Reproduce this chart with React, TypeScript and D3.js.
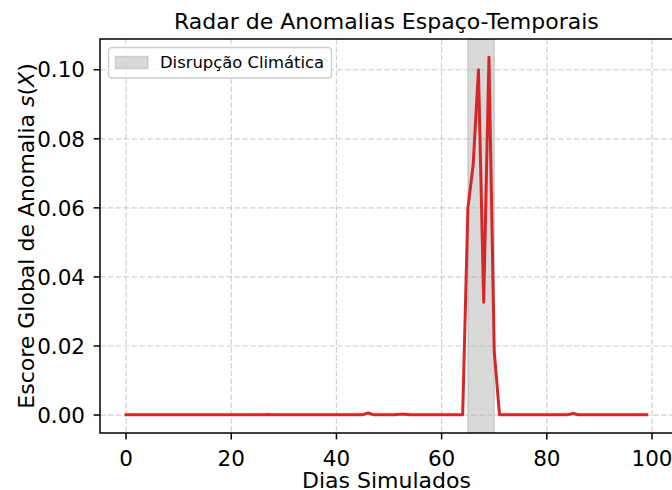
import React, { useEffect, useRef } from "react";
import * as d3 from "d3";

// dias simulados 0..99
const days: number[] = d3.range(0, 100);

// escore global de anomalia
const scores: number[] = [
  0.0001, 0.0001, 0.00012, 0.0001, 0.00011, 0.0001, 0.00009, 0.0001, 0.0001, 0.00008,
  0.0001, 0.00012, 0.0001, 0.0001, 0.00011, 0.00009, 0.0001, 0.0001, 0.00008, 0.0001,
  0.0001, 0.00011, 0.0001, 0.00012, 0.0001, 0.00009, 0.0001, 0.00013, 0.0001, 0.0001,
  0.00012, 0.0001, 0.0001, 0.00009, 0.0001, 0.00011, 0.0001, 0.0001, 0.00008, 0.0001,
  0.0001, 0.00011, 0.0001, 0.0001, 0.00012, 0.0001, 0.0006, 0.0001, 0.00011, 0.0001,
  0.0001, 0.00012, 0.0002, 0.00025, 0.0001, 0.0001, 0.00009, 0.0001, 0.0001, 0.00011,
  0.0001, 0.0001, 0.00009, 0.0001, 0.0001, 0.06, 0.0725, 0.1, 0.0327, 0.1036,
  0.0185, 0.0001, 0.0001, 0.00011, 0.0001, 0.0001, 0.00012, 0.0001, 0.00009, 0.0001,
  0.0001, 0.00011, 0.0001, 0.0001, 0.00012, 0.00045, 0.0001, 0.0001, 0.00009, 0.0001,
  0.0001, 0.00011, 0.0001, 0.0001, 0.00012, 0.0001, 0.0001, 0.00009, 0.0001, 0.0001,
];

const xTicks: number[] = [0, 20, 40, 60, 80, 100];
const yTicks: number[] = [0, 0.02, 0.04, 0.06, 0.08, 0.1];

// janela da disrupção climática (axvspan)
const disruption: [number, number] = [65, 70];

const FONT = "'DejaVu Sans', sans-serif";

function App() {
  const ref = useRef<SVGSVGElement | null>(null);

  useEffect(() => {
    const width = 672;
    const height = 490;
    const left = 100;
    const right = 672.8;
    const top = 39;
    const bottom = 433;

    const svg = d3.select(ref.current);
    svg.selectAll("*").remove();

    // matplotlib-like 5% margins
    const xScale = d3.scaleLinear().domain([-4.95, 103.95]).range([left, right]);
    const yScale = d3.scaleLinear().domain([-0.0052, 0.1089]).range([bottom, top]);

    svg.append("rect").attr("width", width).attr("height", height).attr("fill", "#ffffff");

    svg.append("defs")
      .append("clipPath")
      .attr("id", "plot-clip")
      .append("rect")
      .attr("x", left)
      .attr("y", top)
      .attr("width", right - left)
      .attr("height", bottom - top);

    const plot = svg.append("g").attr("clip-path", "url(#plot-clip)");

    // shaded disruption window
    plot.append("rect")
      .attr("x", xScale(disruption[0]))
      .attr("y", top)
      .attr("width", xScale(disruption[1]) - xScale(disruption[0]))
      .attr("height", bottom - top)
      .attr("fill", "#808080")
      .attr("fill-opacity", 0.3)
      .attr("stroke", "#808080")
      .attr("stroke-opacity", 0.3)
      .attr("stroke-width", 1.4);

    // dashed grid
    const grid = plot.append("g");
    xTicks.forEach((t) => {
      grid.append("line")
        .attr("x1", xScale(t)).attr("x2", xScale(t))
        .attr("y1", top).attr("y2", bottom)
        .attr("stroke", "#b0b0b0").attr("stroke-opacity", 0.6)
        .attr("stroke-width", 1.2).attr("stroke-dasharray", "5.5,2.4");
    });
    yTicks.forEach((t) => {
      grid.append("line")
        .attr("x1", left).attr("x2", right)
        .attr("y1", yScale(t)).attr("y2", yScale(t))
        .attr("stroke", "#b0b0b0").attr("stroke-opacity", 0.6)
        .attr("stroke-width", 1.2).attr("stroke-dasharray", "5.5,2.4");
    });

    // anomaly score line
    const line = d3.line<number>()
      .x((_, i) => xScale(days[i]))
      .y((d) => yScale(d));

    plot.append("path")
      .datum(scores)
      .attr("d", line)
      .attr("fill", "none")
      .attr("stroke", "#d62728")
      .attr("stroke-width", 3)
      .attr("stroke-linejoin", "round")
      .attr("stroke-linecap", "square");

    // spines
    const spine = svg.append("g").attr("stroke", "#000").attr("stroke-width", 1.5).attr("fill", "none");
    spine.append("rect")
      .attr("x", left).attr("y", top)
      .attr("width", right - left).attr("height", bottom - top);

    // x ticks
    const xt = svg.append("g");
    xTicks.forEach((t) => {
      xt.append("line")
        .attr("x1", xScale(t)).attr("x2", xScale(t))
        .attr("y1", bottom).attr("y2", bottom + 6.4)
        .attr("stroke", "#000").attr("stroke-width", 1.5);
      xt.append("text")
        .attr("x", xScale(t)).attr("y", bottom + 33)
        .attr("text-anchor", "middle")
        .style("font-family", FONT).style("font-size", "21.5px")
        .attr("fill", "#000")
        .text(d3.format("d")(t));
    });

    // y ticks
    const yt = svg.append("g");
    yTicks.forEach((t) => {
      yt.append("line")
        .attr("x1", left - 6.4).attr("x2", left)
        .attr("y1", yScale(t)).attr("y2", yScale(t))
        .attr("stroke", "#000").attr("stroke-width", 1.5);
      yt.append("text")
        .attr("x", left - 15).attr("y", yScale(t))
        .attr("dy", "0.36em")
        .attr("text-anchor", "end")
        .style("font-family", FONT).style("font-size", "21.5px")
        .attr("fill", "#000")
        .text(d3.format(".2f")(t));
    });

    // axis labels and title
    svg.append("text")
      .attr("x", (left + right) / 2).attr("y", 488)
      .attr("text-anchor", "middle")
      .style("font-family", FONT).style("font-size", "22px")
      .text("Dias Simulados");

    const ylab = svg.append("text")
      .attr("transform", `translate(34, ${(top + bottom) / 2}) rotate(-90)`)
      .attr("text-anchor", "middle")
      .style("font-family", FONT).style("font-size", "22px");
    ylab.append("tspan").text("Escore Global de Anomalia ");
    ylab.append("tspan").style("font-style", "italic").text("s");
    ylab.append("tspan").text("(");
    ylab.append("tspan").style("font-style", "italic").text("X");
    ylab.append("tspan").text(")");

    svg.append("text")
      .attr("x", (left + right) / 2).attr("y", 29)
      .attr("text-anchor", "middle")
      .style("font-family", FONT).style("font-size", "22px")
      .text("Radar de Anomalias Espaço-Temporais");

    // legend
    const lg = svg.append("g");
    lg.append("rect")
      .attr("x", 108.5).attr("y", 47.5)
      .attr("width", 223).attr("height", 30.5)
      .attr("rx", 3.5)
      .attr("fill", "#ffffff").attr("fill-opacity", 0.8)
      .attr("stroke", "#cccccc").attr("stroke-width", 1.4);
    lg.append("rect")
      .attr("x", 115.5).attr("y", 56.5)
      .attr("width", 32.5).attr("height", 12)
      .attr("fill", "#808080").attr("fill-opacity", 0.3)
      .attr("stroke", "#808080").attr("stroke-opacity", 0.3)
      .attr("stroke-width", 1.4);
    lg.append("text")
      .attr("x", 160).attr("y", 62.5)
      .attr("dy", "0.35em")
      .style("font-family", FONT).style("font-size", "16.4px")
      .attr("fill", "#000")
      .text("Disrupção Climática");
  }, []);

  return (
    <div style={{ position: "absolute", left: 0, top: 0 }}>
      <svg ref={ref} width={672} height={490} style={{ display: "block" }} />
    </div>
  );
}

export default App;
